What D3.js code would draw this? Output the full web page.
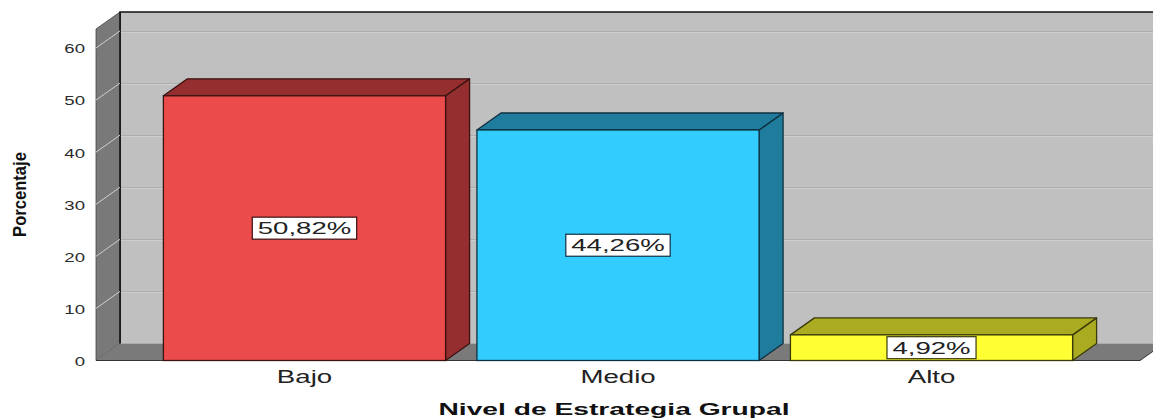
<!DOCTYPE html>
<html>
<head>
<meta charset="utf-8">
<script src="https://cdn.jsdelivr.net/npm/d3@7"></script>
<style>
  html, body { margin: 0; padding: 0; background: #ffffff; }
  svg { display: block; font-family: "Liberation Sans", Arial, sans-serif; }
</style>
</head>
<body>
<svg id="chart" width="1153" height="419"></svg>
<script>
// Category levels and their percentages
const categories = ["Bajo", "Medio", "Alto"];
const percentages = [50.82, 44.26, 4.92];
const yTicks = [0, 10, 20, 30, 40, 50, 60];
const yTitle = "Porcentaje";
const xTitle = "Nivel de Estrategia Grupal";

// Face colours per bar: front, then the shaded top/side
const frontFill = ["#ec4b4c", "#33ccff", "#ffff33"];
const sideFill = ["#952e2e", "#1f7c9d", "#abab22"];
const edgeStroke = ["#3a1212", "#0f3040", "#3a3a0a"];

const svg = d3.select("#chart");

// Front plane geometry and the oblique depth offset
const left = 96, right = 1140;
const baseY = 360.5, topY = 29;
const DX = 24, DY = 17;

const x = d3.scaleBand()
  .domain(categories)
  .range([left, right])
  .paddingInner(0.1)
  .paddingOuter(0.215);

const y = d3.scaleLinear()
  .domain([0, 63.65])
  .range([baseY, topY]);

const fmt = v => d3.format(".2f")(v).replace(".", ",") + "%";
const pts = arr => arr.map(p => p.join(",")).join(" ");

// Back wall
svg.append("rect")
  .attr("x", left + DX).attr("y", topY - DY)
  .attr("width", 1153 - (left + DX) + 20)
  .attr("height", (baseY - DY) - (topY - DY))
  .attr("fill", "#c0c0c0");

// Gridlines on the back wall
const grid = svg.append("g");
yTicks.filter(t => t > 0).forEach(t => {
  const gy = Math.round(y(t) - DY) + 0.5;
  grid.append("line")
    .attr("x1", left + DX).attr("x2", 1160)
    .attr("y1", gy).attr("y2", gy)
    .attr("stroke", "#adadad").attr("stroke-width", 1);
  grid.append("line")
    .attr("x1", left + DX).attr("x2", 1160)
    .attr("y1", gy + 1).attr("y2", gy + 1)
    .attr("stroke", "#cdcdcd").attr("stroke-width", 1);
});

// Top and left border of the back wall
svg.append("path")
  .attr("d", `M${left + DX},${baseY - DY} L${left + DX},${topY - DY} L1160,${topY - DY}`)
  .attr("fill", "none").attr("stroke", "#111").attr("stroke-width", 1.5);

// Left side panel
svg.append("polygon")
  .attr("points", pts([[left, topY], [left + DX, topY - DY], [left + DX, baseY - DY], [left, baseY]]))
  .attr("fill", "#797979").attr("stroke", "#444").attr("stroke-width", 0.8);

// Floor
svg.append("polygon")
  .attr("points", pts([[left, baseY], [right, baseY], [right + DX, baseY - DY], [left + DX, baseY - DY]]))
  .attr("fill", "#7a7a7a");
svg.append("line")
  .attr("x1", left).attr("x2", right)
  .attr("y1", baseY).attr("y2", baseY)
  .attr("stroke", "#333").attr("stroke-width", 1);
svg.append("line")
  .attr("x1", right).attr("x2", right + DX)
  .attr("y1", baseY).attr("y2", baseY - DY)
  .attr("stroke", "#333").attr("stroke-width", 1);

// Re-draw the back wall's left edge over the panel
svg.append("line")
  .attr("x1", left + DX).attr("x2", left + DX)
  .attr("y1", topY - DY).attr("y2", baseY - DY)
  .attr("stroke", "#111").attr("stroke-width", 1.5);

// Diagonal tick lines across the side panel
yTicks.filter(t => t > 0).forEach(t => {
  svg.append("line")
    .attr("x1", left).attr("y1", y(t))
    .attr("x2", left + DX).attr("y2", y(t) - DY)
    .attr("stroke", "#cfcfcf").attr("stroke-width", 1);
});

// Y axis labels on the front plane
const yAxis = svg.append("g")
  .attr("transform", `translate(${left},0)`)
  .call(d3.axisLeft(y).tickValues(yTicks).tickSize(0).tickPadding(0));
yAxis.select(".domain").remove();
yAxis.selectAll("text")
  .attr("x", 0).attr("dy", "0.36em")
  .attr("transform", "translate(-11,0) scale(1.38,1)")
  .attr("font-size", 13.5)
  .attr("font-family", "'Liberation Sans', Arial, sans-serif")
  .attr("fill", "#2a2a2a");

// Bars as oblique boxes
const bars = svg.append("g");
categories.forEach((c, i) => {
  const v = percentages[i];
  const x0 = x(c), x1 = x(c) + x.bandwidth();
  const yt = y(v), yb = y(0);
  const g = bars.append("g");
  g.append("polygon")
    .attr("points", pts([[x1, yt], [x1 + DX, yt - DY], [x1 + DX, yb - DY], [x1, yb]]))
    .attr("fill", sideFill[i]).attr("stroke", edgeStroke[i]).attr("stroke-width", 1.3)
    .attr("stroke-linejoin", "round");
  g.append("polygon")
    .attr("points", pts([[x0, yt], [x0 + DX, yt - DY], [x1 + DX, yt - DY], [x1, yt]]))
    .attr("fill", sideFill[i]).attr("stroke", edgeStroke[i]).attr("stroke-width", 1.3)
    .attr("stroke-linejoin", "round");
  g.append("rect")
    .attr("x", x0).attr("y", yt)
    .attr("width", x.bandwidth()).attr("height", yb - yt)
    .attr("fill", frontFill[i]).attr("stroke", edgeStroke[i]).attr("stroke-width", 1.3);

  // Value label in a white box at the middle of the front face
  const cx = (x0 + x1) / 2, cy = (yt + yb) / 2;
  const lg = g.append("g");
  const box = lg.append("rect");
  const t = lg.append("text")
    .attr("text-anchor", "middle")
    .attr("dy", "0.36em")
    .attr("transform", `translate(${cx},${cy}) scale(1.62,1)`)
    .attr("font-size", 17)
    .attr("fill", "#222")
    .text(fmt(v));
  const w = t.node().getComputedTextLength() * 1.62;
  const bw = w + 11, bh = Math.min(22, (yb - yt) - 1);
  box.attr("x", cx - bw / 2).attr("y", cy - bh / 2)
    .attr("width", bw).attr("height", bh)
    .attr("fill", "#ffffff").attr("stroke", edgeStroke[i]).attr("stroke-width", 1.2);
});

// Category labels
categories.forEach(c => {
  svg.append("text")
    .attr("text-anchor", "middle")
    .attr("transform", `translate(${x(c) + x.bandwidth() / 2},383) scale(1.58,1)`)
    .attr("font-size", 17.5)
    .attr("fill", "#222")
    .text(c);
});

// Axis titles
svg.append("text")
  .attr("text-anchor", "middle")
  .attr("transform", "translate(614,415) scale(1.66,1)")
  .attr("font-size", 17)
  .attr("font-weight", "bold")
  .attr("fill", "#111")
  .text(xTitle);

svg.append("text")
  .attr("text-anchor", "middle")
  .attr("transform", "translate(25.5,194.5) rotate(-90) scale(0.95,1)")
  .attr("font-size", 17.5)
  .attr("font-weight", "bold")
  .attr("fill", "#111")
  .text(yTitle);
</script>
</body>
</html>
